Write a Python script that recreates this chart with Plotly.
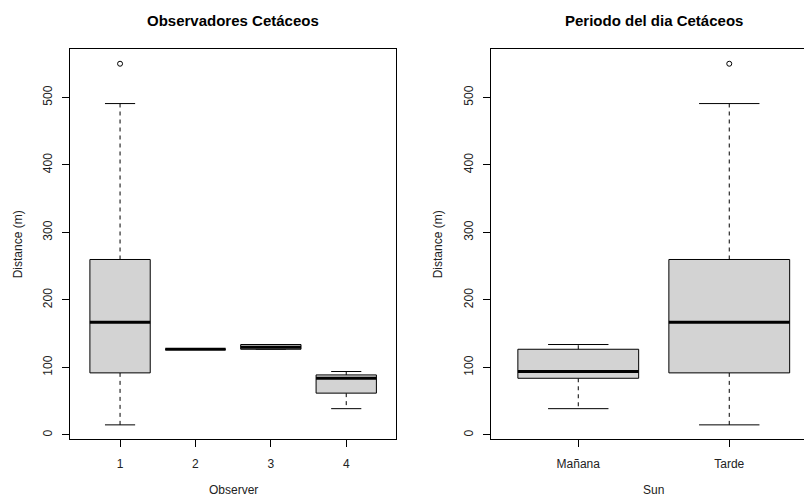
import plotly.graph_objects as go

# ---- data ----
observer_cats = ["1", "2", "3", "4"]
obs_lower = [15, 127, 127, 39]
obs_q1 = [92, 127, 127, 62]
obs_median = [167, 127, 130, 84]
obs_q3 = [260, 127, 134, 89]
obs_upper = [491, 127, 134, 94]
obs_outliers = [[550], [], [], []]

sun_cats = ["Mañana", "Tarde"]
sun_lower = [39, 15]
sun_q1 = [84, 92]
sun_median = [94, 167]
sun_q3 = [127, 260]
sun_upper = [134, 491]
sun_outliers = [[], [550]]

y_ticks = [0, 100, 200, 300, 400, 500]

FONT = "Liberation Sans, Arial, Helvetica, sans-serif"
BOX_HALF = 0.4
CAP_HALF = 0.2

fig = go.Figure()


def add_boxes(cats, lower, q1, med, q3, upper, outl, xa, ya):
    n = len(cats)
    pos = list(range(1, n + 1))
    # whiskers (dashed)
    wx, wy = [], []
    for p, lo, a, b, up in zip(pos, lower, q1, q3, upper):
        wx += [p, p, None, p, p, None]
        wy += [b, up, None, a, lo, None]
    fig.add_trace(go.Scatter(x=wx, y=wy, mode="lines", xaxis=xa, yaxis=ya,
                             line=dict(color="black", width=1, dash="4px,4px"),
                             hoverinfo="skip", showlegend=False))
    # caps
    cx, cy = [], []
    for p, lo, up in zip(pos, lower, upper):
        cx += [p - CAP_HALF, p + CAP_HALF, None, p - CAP_HALF, p + CAP_HALF, None]
        cy += [up, up, None, lo, lo, None]
    fig.add_trace(go.Scatter(x=cx, y=cy, mode="lines", xaxis=xa, yaxis=ya,
                             line=dict(color="black", width=1),
                             hoverinfo="skip", showlegend=False))
    # boxes
    for p, a, b in zip(pos, q1, q3):
        fig.add_trace(go.Scatter(
            x=[p - BOX_HALF, p + BOX_HALF, p + BOX_HALF, p - BOX_HALF, p - BOX_HALF],
            y=[a, a, b, b, a], mode="lines", fill="toself", fillcolor="#D3D3D3",
            line=dict(color="black", width=1), xaxis=xa, yaxis=ya,
            hoverinfo="skip", showlegend=False))
    # medians
    mx, my = [], []
    for p, m in zip(pos, med):
        mx += [p - BOX_HALF, p + BOX_HALF, None]
        my += [m, m, None]
    fig.add_trace(go.Scatter(x=mx, y=my, mode="lines", xaxis=xa, yaxis=ya,
                             line=dict(color="black", width=3),
                             hoverinfo="skip", showlegend=False))
    # outliers
    ox, oy = [], []
    for p, vals in zip(pos, outl):
        for v in vals:
            ox.append(p)
            oy.append(v)
    fig.add_trace(go.Scatter(x=ox, y=oy, mode="markers", xaxis=xa, yaxis=ya,
                             marker=dict(symbol="circle-open", size=5,
                                         color="black", line=dict(width=1)),
                             hoverinfo="skip", showlegend=False))


add_boxes(observer_cats, obs_lower, obs_q1, obs_median, obs_q3, obs_upper,
          obs_outliers, "x", "y")
add_boxes(sun_cats, sun_lower, sun_q1, sun_median, sun_q3, sun_upper,
          sun_outliers, "x2", "y2")

W, H = 804, 497
y_dom = [1 - 439.3 / H, 1 - 49.3 / H]

axis_common = dict(showgrid=False, zeroline=False, showline=True,
                   linecolor="black", linewidth=1, ticks="outside",
                   ticklen=7, tickcolor="black", tickwidth=1,
                   tickfont=dict(family=FONT, size=12, color="#222"))

fig.update_layout(
    width=W, height=H,
    margin=dict(l=0, r=0, t=0, b=0),
    paper_bgcolor="white", plot_bgcolor="white",
    showlegend=False,
    xaxis=dict(domain=[70.3 / W, 396 / W], range=[0.34, 4.66],
               tickvals=list(range(1, len(observer_cats) + 1)),
               ticktext=observer_cats, mirror=True, anchor="y",
               ticklabelstandoff=6, **axis_common),
    yaxis=dict(domain=y_dom, range=[-6.4, 571.4], tickvals=y_ticks,
               tickangle=-90, mirror=True, anchor="x",
               ticklabelstandoff=6, **axis_common),
    xaxis2=dict(domain=[491.3 / W, 1.0], range=[0.424, 2.495],
                tickvals=list(range(1, len(sun_cats) + 1)),
                ticktext=sun_cats, mirror=True, anchor="y2",
                ticklabelstandoff=6, **axis_common),
    yaxis2=dict(domain=y_dom, range=[-6.4, 571.4], tickvals=y_ticks,
                tickangle=-90, mirror=False, anchor="x2",
                ticklabelstandoff=6, **axis_common),
)

ann_font = dict(family=FONT, size=12, color="#222")
title_font = dict(family=FONT, size=15, color="black")
annotations = [
    dict(text="<b>Observadores Cetáceos</b>", x=233 / W, y=1 - 20 / H,
         font=title_font),
    dict(text="<b>Periodo del dia Cetáceos</b>", x=653.5 / W, y=1 - 20 / H,
         font=title_font),
    dict(text="Distance (m)", x=18 / W, y=1 - 244.3 / H, textangle=-90,
         font=ann_font),
    dict(text="Distance (m)", x=438 / W, y=1 - 244.3 / H, textangle=-90,
         font=ann_font),
    dict(text="Observer", x=233 / W, y=1 - 489.5 / H, font=ann_font),
    dict(text="Sun", x=653 / W, y=1 - 489.5 / H, font=ann_font),
]
for a in annotations:
    a.update(xref="paper", yref="paper", showarrow=False,
             xanchor="center", yanchor="middle")
fig.update_layout(annotations=annotations)

fig.write_html("out.html")
